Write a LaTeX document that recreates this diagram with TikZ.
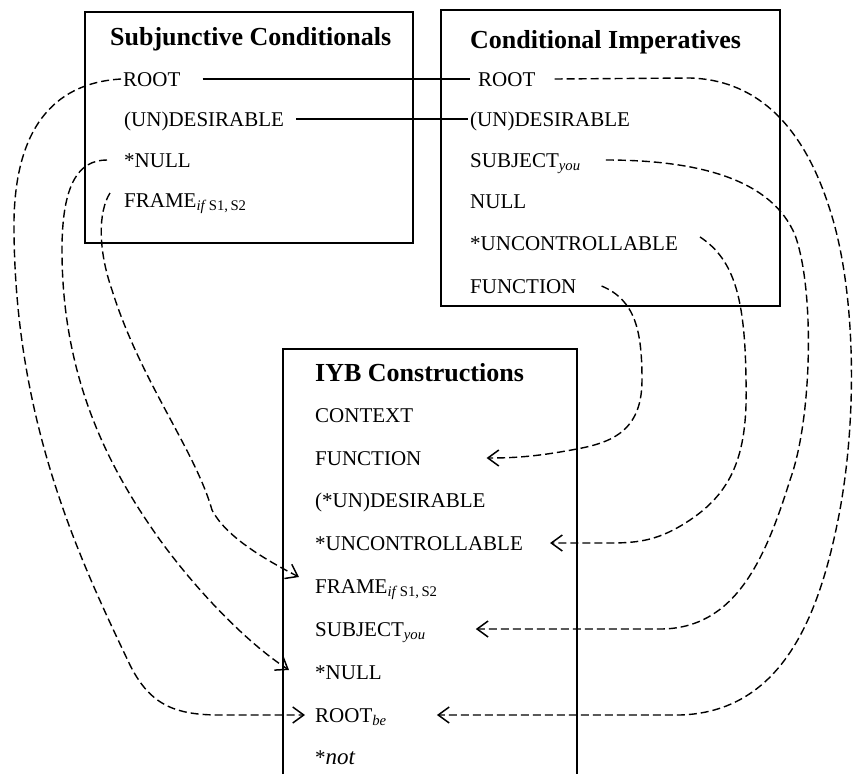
\documentclass[tikz,border=0pt]{standalone}
\usepackage{fontspec}
\setmainfont{Liberation Serif}
\usetikzlibrary{arrows.meta}
\begin{document}
\begin{tikzpicture}[x=1pt,y=1pt,
	row/.style={anchor=west,font=\fontsize{21}{25}\selectfont,text height=14pt,text depth=0pt},
	head/.style={anchor=west,font=\fontsize{26}{30}\selectfont\bfseries,text height=17pt,text depth=0pt},
	link/.style={black,dash pattern=on 8pt off 4pt,line width=1.4pt,-{Straight Barb[length=11pt,width=16pt,line width=1.5pt]}},
	tie/.style={black,line width=1.3pt}]
	\tikzstyle{every node}+=[inner sep=0pt]
	\useasboundingbox (0,0) rectangle (857,-774);
	\draw [black,line width=1.5pt] (85,-12) rectangle (413,-243);
	\draw [black,line width=1.5pt] (441,-10) rectangle (780,-306);
	\draw [black,line width=1.5pt] (283,-774) -- (283,-349) -- (577,-349) -- (577,-774);
	\draw (110,-37) node [head] (ltitle) {Subjunctive Conditionals};
	\draw (123,-79) node [row] (lroot) {ROOT};
	\draw (124,-119) node [row] (ldes) {(UN)DESIRABLE};
	\draw (124,-160) node [row] (lnull) {*NULL};
	\draw (124,-200) node [row] (lframe) {FRAME\textsubscript{\textit{if}\,S1,\,S2}};
	\draw (470,-40) node [head] (rtitle) {Conditional Imperatives};
	\draw (478,-79) node [row] (rroot) {ROOT};
	\draw (470,-119) node [row] (rdes) {(UN)DESIRABLE};
	\draw (470,-160) node [row] (rsubj) {SUBJECT\textsubscript{\textit{you}}};
	\draw (470,-201) node [row] (rnull) {NULL};
	\draw (470,-243) node [row] (runc) {*UNCONTROLLABLE};
	\draw (470,-286) node [row] (rfunc) {FUNCTION};
	\draw (315,-373) node [head] (btitle) {IYB Constructions};
	\draw (315,-415) node [row] (bctx) {CONTEXT};
	\draw (315,-458) node [row] (bfunc) {FUNCTION};
	\draw (315,-500) node [row] (bdes) {(*UN)DESIRABLE};
	\draw (315,-543) node [row] (bunc) {*UNCONTROLLABLE};
	\draw (315,-586) node [row] (bframe) {FRAME\textsubscript{\textit{if}\,S1,\,S2}};
	\draw (315,-629) node [row] (bsubj) {SUBJECT\textsubscript{\textit{you}}};
	\draw (315,-672) node [row] (bnull) {*NULL};
	\draw (315,-715) node [row] (broot) {ROOT\textsubscript{\textit{be}}};
	\draw (315,-757) node [row] (bnot) {*\textit{\fontsize{23}{27}\selectfont not}};
	\draw [tie] ([xshift=22]lroot.east) -- ([xshift=-8]rroot.west);
	\draw [tie] ([xshift=12]ldes.east) -- ([xshift=-2]rdes.west);
	\draw [link] ([xshift=-2]lroot.west) .. controls (70,-82) and (16,-110) .. (14,-220)
		.. controls (13,-420) and (80,-560) .. (130,-665)
		.. controls (150,-705) and (175,-715) .. (220,-715) -- ([xshift=-10]broot.west);
	\draw [link] ([xshift=-17]lnull.west) .. controls (78,-160) and (62,-185) .. (62,-250)
		.. controls (62,-380) and (110,-470) .. (160,-540)
		.. controls (200,-595) and (250,-645) .. ([xshift=-26,yshift=2]bnull.west);
	\draw [link] ([xshift=-14,yshift=7]lframe.west) .. controls (98,-212) and (98,-250) .. (112,-290)
		.. controls (140,-380) and (195,-450) .. (212,-510)
		.. controls (225,-535) and (260,-557) .. ([xshift=-16,yshift=9]bframe.west);
	\draw [link] ([xshift=19]rroot.east) -- (690,-78) .. controls (760,-80) and (805,-130) .. (830,-210)
		.. controls (856,-290) and (858,-420) .. (838,-520)
		.. controls (818,-620) and (780,-712) .. (680,-715) -- ([xshift=50]broot.east);
	\draw [link] ([xshift=25]rsubj.east) .. controls (700,-160) and (772,-180) .. (795,-235)
		.. controls (815,-290) and (812,-420) .. (790,-480)
		.. controls (765,-560) and (735,-629) .. (660,-629) -- ([xshift=50]bsubj.east);
	\draw [link] ([xshift=22,yshift=6]runc.east) .. controls (735,-260) and (745,-300) .. (746,-380)
		.. controls (748,-450) and (735,-490) .. (690,-520)
		.. controls (660,-540) and (640,-543) .. (610,-543) -- ([xshift=27]bunc.east);
	\draw [link] ([xshift=25]rfunc.east) .. controls (635,-300) and (642,-330) .. (642,-380)
		.. controls (642,-440) and (600,-445) .. (560,-452)
		.. controls (530,-457) and (510,-458) .. ([xshift=65]bfunc.east);
\end{tikzpicture}
\end{document}
